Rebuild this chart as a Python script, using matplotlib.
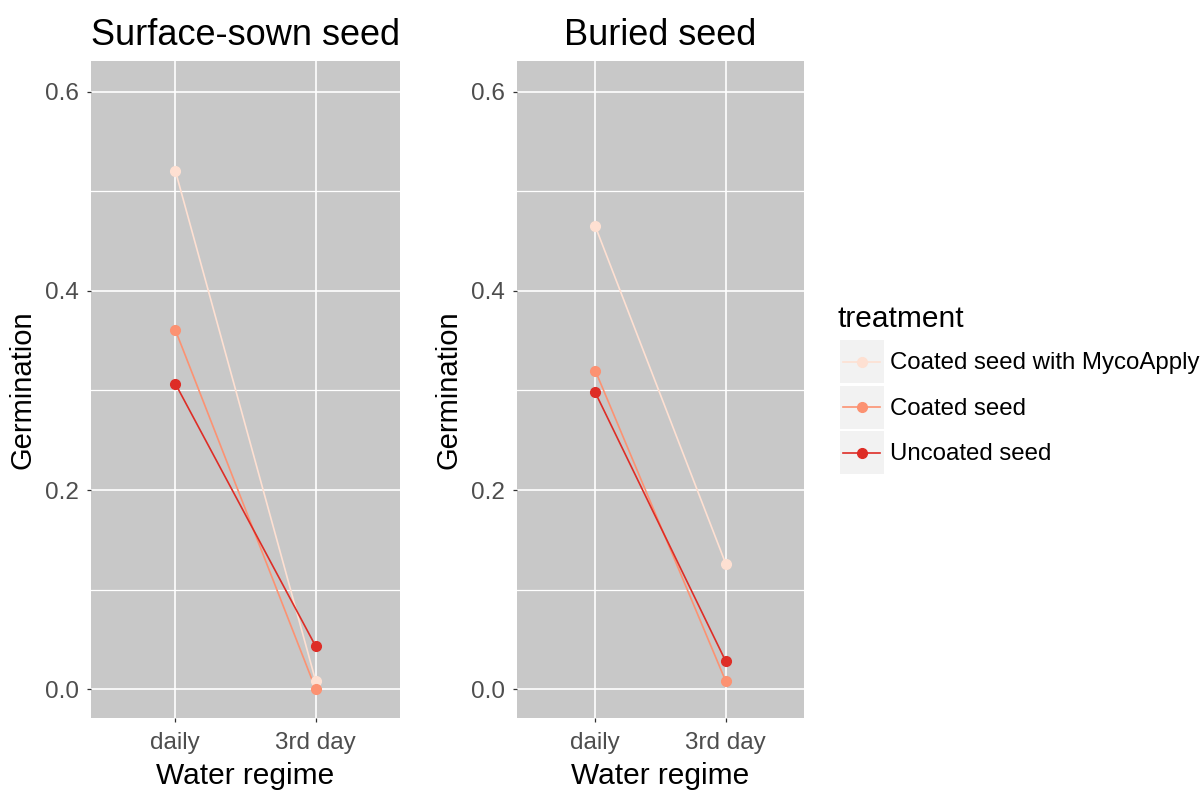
import matplotlib
matplotlib.use("Agg")
import matplotlib.pyplot as plt
from matplotlib.patches import Rectangle
from matplotlib.lines import Line2D

plt.rcParams['font.family'] = ['Liberation Sans', 'DejaVu Sans']

# data
regimes = ['daily', '3rd day']
treatments = ['Coated seed with MycoApply', 'Coated seed', 'Uncoated seed']
colors = ['#FEE0D2', '#FC9272', '#DE2D26']

surface_myco = [0.521, 0.008]
surface_coated = [0.361, 0.000]
surface_uncoated = [0.307, 0.043]

buried_myco = [0.465, 0.126]
buried_coated = [0.320, 0.008]
buried_uncoated = [0.298, 0.028]

panels = [
    ('Surface-sown seed', [surface_myco, surface_coated, surface_uncoated]),
    ('Buried seed', [buried_myco, buried_coated, buried_uncoated]),
]

W, H = 1203, 791
fig = plt.figure(figsize=(W / 100, H / 100), dpi=100)

# panel boxes in pixels: left, right, top, bottom
boxes = [(91, 400, 61, 718), (517, 804, 61, 718)]

for (title, series), (l, r, t, b) in zip(panels, boxes):
    ax = fig.add_axes([l / W, (H - b) / H, (r - l) / W, (b - t) / H])
    ax.set_facecolor('#C8C8C8')
    for s in ax.spines.values():
        s.set_visible(False)
    x = list(range(len(regimes)))
    for vals, c in zip(series, colors):
        ax.plot(x, vals, color=c, lw=1.2, zorder=3)
    for vals, c in zip(series, colors):
        ax.plot(x, vals, 'o', color=c, ms=7, zorder=4)
    ax.set_xlim(-0.6, 1.6)
    ax.set_ylim(-0.029, 0.631)
    ax.set_xticks(x)
    ax.set_xticklabels(regimes)
    ax.set_yticks([0.0, 0.2, 0.4, 0.6])
    ax.set_yticklabels(['0.0', '0.2', '0.4', '0.6'])
    ax.set_yticks([0.1, 0.3, 0.5], minor=True)
    ax.grid(True, which='major', color='white', lw=1.2, zorder=1)
    ax.grid(True, which='minor', axis='y', color='white', lw=0.9, zorder=1)
    ax.set_axisbelow(True)
    ax.tick_params(which='major', length=3, width=0.9, color='#333333',
                   labelcolor='#4D4D4D', labelsize=17.5)
    ax.tick_params(axis='x', pad=7)
    ax.tick_params(axis='y', pad=6)
    ax.tick_params(which='minor', length=0)
    ax.set_title(title, fontsize=26, color='black', pad=11.5)
    ax.set_xlabel('Water regime', fontsize=21.5, color='black', labelpad=5.5)
    ax.set_ylabel('Germination', fontsize=21, color='black', labelpad=6)

# legend drawn by hand to get ggplot-style key boxes
lax = fig.add_axes([0, 0, 1, 1])
lax.set_xlim(0, W)
lax.set_ylim(H, 0)
lax.axis('off')
lax.text(837, 319, 'treatment', fontsize=21.5, va='center', ha='left')
row_top = 340
row_h = 45.5
for i, (name, c) in enumerate(zip(treatments, colors)):
    y0 = row_top + i * row_h
    lax.add_patch(Rectangle((840, y0), 44, row_h - 2.5, facecolor='#F2F2F2',
                            edgecolor='none'))
    yc = y0 + (row_h - 2.5) / 2
    lax.add_line(Line2D([843, 880], [yc, yc], color=c, lw=1.2))
    lax.plot([862], [yc], 'o', color=c, ms=7)
    lax.text(890, yc + 2, name, fontsize=17.3, va='center', ha='left')

fig.savefig('out.png', dpi=100)
